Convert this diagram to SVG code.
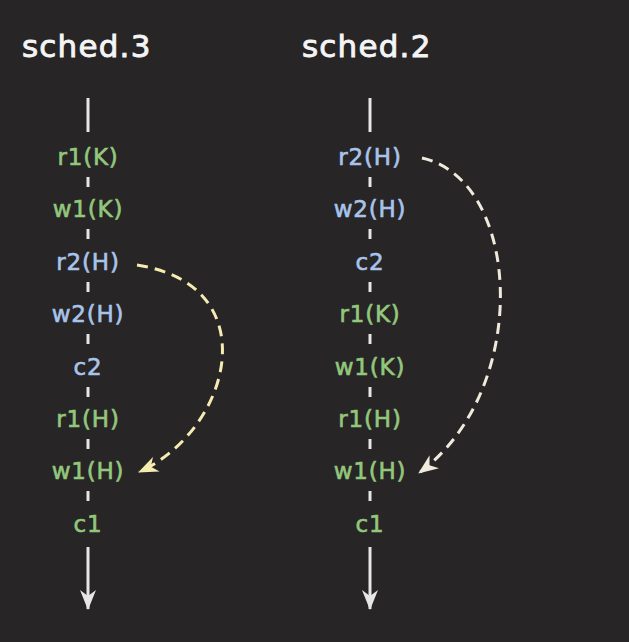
<svg xmlns="http://www.w3.org/2000/svg" width="629" height="642" viewBox="0 0 629 642">
<defs>
<style>
.title{font-family:"DejaVu Sans","Liberation Sans",sans-serif;font-size:31px;letter-spacing:1.2px;fill:#f4f4f4;stroke:#f4f4f4;stroke-width:0.9px}
.lbl{font-family:"DejaVu Sans","Liberation Sans",sans-serif;font-size:23px;letter-spacing:0.8px;text-anchor:middle;stroke-width:0.6px}
.g{fill:#93c77c;stroke:#93c77c}
.b{fill:#a9c4ea;stroke:#a9c4ea}
.axis{stroke:#e6e6e6;stroke-width:3;fill:none}
.arc{fill:none;stroke-width:3;stroke-dasharray:11 7}
</style>
<marker id="ah" viewBox="0 0 20 16" refX="19" refY="8" markerWidth="20" markerHeight="16" markerUnits="userSpaceOnUse" orient="auto">
<path d="M0,0 L20,8 L0,16 L6,8 z" fill="#e6e6e6"/>
</marker>
<marker id="ahy" viewBox="0 0 20 16" refX="19" refY="8" markerWidth="20" markerHeight="16" markerUnits="userSpaceOnUse" orient="auto">
<path d="M0,0 L20,8 L0,16 L6,8 z" fill="#f4ecb0"/>
</marker>
<marker id="ahw" viewBox="0 0 20 16" refX="19" refY="8" markerWidth="20" markerHeight="16" markerUnits="userSpaceOnUse" orient="auto">
<path d="M0,0 L20,8 L0,16 L6,8 z" fill="#efeadb"/>
</marker>
</defs>
<rect x="0" y="0" width="629" height="642" fill="#272526"/>
<g id="titles">
<text id="title-s3" class="title" x="22" y="57">sched.3</text>
<text id="title-s2" class="title" x="302" y="57">sched.2</text>
</g>
<g id="connectors">
<g id="axis-left" class="axis">
<line x1="88" y1="98" x2="88" y2="132"/>
<line x1="88" y1="177" x2="88" y2="187"/>
<line x1="88" y1="229" x2="88" y2="239"/>
<line x1="88" y1="282" x2="88" y2="292"/>
<line x1="88" y1="334" x2="88" y2="344"/>
<line x1="88" y1="387" x2="88" y2="397"/>
<line x1="88" y1="439" x2="88" y2="449"/>
<line x1="88" y1="491" x2="88" y2="501"/>
<line x1="88" y1="547" x2="88" y2="609" marker-end="url(#ah)"/>
</g>
<g id="axis-right" class="axis">
<line x1="370" y1="98" x2="370" y2="132"/>
<line x1="370" y1="177" x2="370" y2="187"/>
<line x1="370" y1="229" x2="370" y2="239"/>
<line x1="370" y1="282" x2="370" y2="292"/>
<line x1="370" y1="334" x2="370" y2="344"/>
<line x1="370" y1="387" x2="370" y2="397"/>
<line x1="370" y1="439" x2="370" y2="449"/>
<line x1="370" y1="491" x2="370" y2="501"/>
<line x1="370" y1="547" x2="370" y2="609" marker-end="url(#ah)"/>
</g>
<path id="arc-left" class="arc" stroke="#f4ecb0" d="M137,265 C268,285 232,430 139,472" marker-end="url(#ahy)"/>
<path id="arc-right" class="arc" stroke="#efeadb" d="M422,158 C522,180 532,390 419,473" marker-end="url(#ahw)"/>
</g>
<g id="sched3">
<g id="s3-r1K"><text class="lbl g" x="88" y="165">r1(K)</text></g>
<g id="s3-w1K"><text class="lbl g" x="88" y="217">w1(K)</text></g>
<g id="s3-r2H"><text class="lbl b" x="88" y="270">r2(H)</text></g>
<g id="s3-w2H"><text class="lbl b" x="88" y="322">w2(H)</text></g>
<g id="s3-c2"><text class="lbl b" x="88" y="375">c2</text></g>
<g id="s3-r1H"><text class="lbl g" x="88" y="427">r1(H)</text></g>
<g id="s3-w1H"><text class="lbl g" x="88" y="479">w1(H)</text></g>
<g id="s3-c1"><text class="lbl g" x="88" y="532">c1</text></g>
</g>
<g id="sched2">
<g id="s2-r2H"><text class="lbl b" x="370" y="165">r2(H)</text></g>
<g id="s2-w2H"><text class="lbl b" x="370" y="217">w2(H)</text></g>
<g id="s2-c2"><text class="lbl b" x="370" y="270">c2</text></g>
<g id="s2-r1K"><text class="lbl g" x="370" y="322">r1(K)</text></g>
<g id="s2-w1K"><text class="lbl g" x="370" y="375">w1(K)</text></g>
<g id="s2-r1H"><text class="lbl g" x="370" y="427">r1(H)</text></g>
<g id="s2-w1H"><text class="lbl g" x="370" y="479">w1(H)</text></g>
<g id="s2-c1"><text class="lbl g" x="370" y="532">c1</text></g>
</g>
</svg>
